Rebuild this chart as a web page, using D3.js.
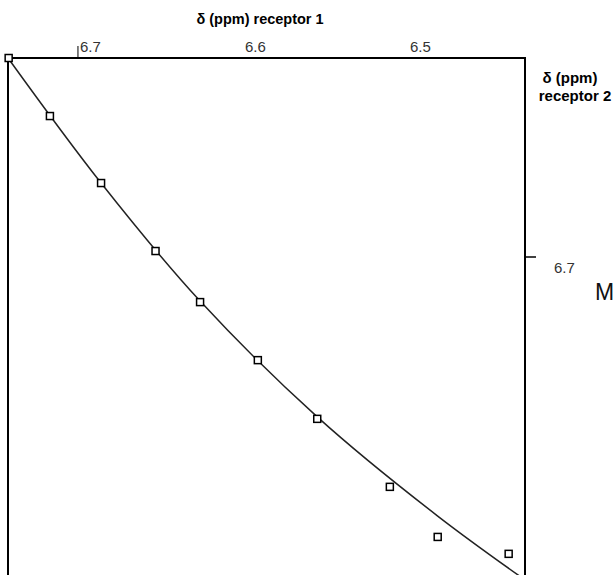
<!DOCTYPE html>
<html>
<head>
<meta charset="utf-8">
<script src="https://cdn.jsdelivr.net/npm/d3@7"></script>
<style>
  body { margin: 0; background: #fff; }
  text { font-family: "Liberation Sans", Arial, sans-serif; }
</style>
</head>
<body>
<script>
// Data (ppm)
const shift1 = [6.742, 6.717, 6.686, 6.653, 6.626, 6.591, 6.555, 6.511, 6.482, 6.439];
const shift2 = [6.7600, 6.7425, 6.7223, 6.7018, 6.6864, 6.6689, 6.6512, 6.6307, 6.6156, 6.6105];

// fitted curve
const fit1 = [6.7424, 6.686, 6.626, 6.555, 6.482, 6.417];
const fit2 = [6.7600, 6.7223, 6.6867, 6.6518, 6.6219, 6.5984];

const topTicks = [6.7, 6.6, 6.5];
const rightTicks = [6.7];

// Constants
const width = 614;
const height = 575;
const frame = {left: 8, top: 58, right: 525, bottom: 640};

var svg = d3.select("body")
    .append("svg")
    .attr("width", width)
    .attr("height", height);

const x = d3.scaleLinear()
    .domain([6.7424, 6.4291])
    .range([frame.left, frame.right]);

const y = d3.scaleLinear()
    .domain([6.76, 6.7])
    .range([frame.top, 257]);

// frame (bottom is cut off by the picture edge)
svg.append("path")
    .attr("d", `M${frame.left},${frame.bottom}V${frame.top}H${frame.right}V${frame.bottom}`)
    .attr("fill", "none")
    .attr("stroke", "#000")
    .attr("stroke-width", 2);

// top axis: only the first tick is drawn, labels sit right of the tick
topTicks.forEach(function(t, i) {
    if (i == 0) {
        svg.append("line")
            .attr("x1", x(t)).attr("x2", x(t))
            .attr("y1", frame.top).attr("y2", frame.top - 12)
            .attr("stroke", "#000").attr("stroke-width", 1);
    }
    svg.append("text")
        .attr("x", x(t) + 2)
        .attr("y", 52)
        .attr("font-size", 15)
        .attr("fill", "#333")
        .text(t.toFixed(1));
});

// right axis
rightTicks.forEach(function(t) {
    svg.append("line")
        .attr("x1", frame.right).attr("x2", frame.right + 11)
        .attr("y1", y(t)).attr("y2", y(t))
        .attr("stroke", "#000").attr("stroke-width", 1.5);
    svg.append("text")
        .attr("x", 554)
        .attr("y", y(t) + 16)
        .attr("font-size", 15)
        .attr("fill", "#333")
        .text(t.toFixed(1));
});

// axis titles
svg.append("text")
    .attr("x", 260).attr("y", 24)
    .attr("text-anchor", "middle")
    .attr("font-size", 14.5)
    .attr("font-weight", "bold")
    .text("δ (ppm) receptor 1");

svg.append("text")
    .attr("x", 570).attr("y", 83)
    .attr("text-anchor", "middle")
    .attr("font-size", 15)
    .attr("font-weight", "bold")
    .text("δ (ppm)");

svg.append("text")
    .attr("x", 575).attr("y", 101)
    .attr("text-anchor", "middle")
    .attr("font-size", 15)
    .attr("font-weight", "bold")
    .text("receptor 2");

svg.append("text")
    .attr("x", 595).attr("y", 300)
    .attr("font-size", 23)
    .attr("fill", "#111")
    .text("M");

// fitted curve
const line = d3.line()
    .x(d => x(d[0]))
    .y(d => y(d[1]))
    .curve(d3.curveCatmullRom);

svg.append("path")
    .datum(fit1.map((v, i) => [v, fit2[i]]))
    .attr("d", line)
    .attr("fill", "none")
    .attr("stroke", "#222")
    .attr("stroke-width", 1.5);

// data points
svg.selectAll("rect.pt")
    .data(shift1.map((v, i) => [v, shift2[i]]))
    .enter()
    .append("rect")
    .attr("class", "pt")
    .attr("x", d => x(d[0]) - 3.5)
    .attr("y", d => y(d[1]) - 3.5)
    .attr("width", 7)
    .attr("height", 7)
    .attr("fill", "#fff")
    .attr("stroke", "#000")
    .attr("stroke-width", 1.5);
</script>
</body>
</html>
